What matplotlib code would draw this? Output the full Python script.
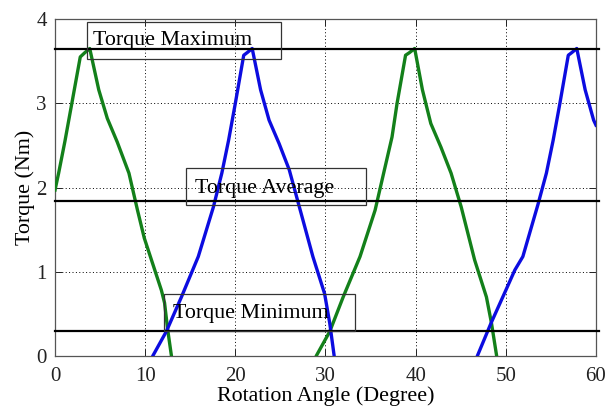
import numpy as np
import matplotlib
matplotlib.use('Agg')
import matplotlib.pyplot as plt
import matplotlib.patches as mpatches

plt.rcParams['font.family'] = ['Liberation Serif', 'DejaVu Serif']

# ── Data (degrees, Nm) ───────────────────────────────────────────────────────
green_x = [0.0, 0.4, 1.1, 1.9, 2.8, 3.3, 3.85, 4.85, 5.8, 6.9, 8.2, 9.15, 9.9,
           11.8, 12.15, 12.5, 12.9, 13.3,
           28.6, 28.97, 30.47, 31.96, 33.83, 35.5, 36.45, 37.38, 37.94, 38.88,
           39.3, 39.89, 40.75, 41.68, 42.8, 43.93, 45.05, 46.54, 47.85, 48.41,
           48.97, 49.3]
green_y = [1.97, 2.17, 2.55, 3.02, 3.55, 3.60, 3.65, 3.16, 2.82, 2.54, 2.17,
           1.73, 1.40, 0.78, 0.63, 0.31, 0.01, -0.3,
           -0.3, 0.0, 0.29, 0.70, 1.18, 1.73, 2.17, 2.60, 3.00, 3.57,
           3.60, 3.65, 3.16, 2.76, 2.48, 2.17, 1.77, 1.14, 0.70, 0.39,
           0.01, -0.3]

blue_x = [10.5, 10.84, 12.34, 14.02, 15.89, 17.57, 18.5, 19.25, 20.0, 20.93,
          21.3, 21.87, 22.8, 23.74, 24.86, 25.98, 27.1, 28.6, 29.9, 30.47,
          30.95, 31.3,
          46.5, 46.84, 48.36, 50.0, 51.0, 51.89, 53.57, 54.5, 55.25, 56.0,
          56.93, 57.3, 57.87, 58.8, 59.74, 60.0]
blue_y = [-0.3, 0.0, 0.29, 0.70, 1.18, 1.77, 2.17, 2.56, 3.00, 3.57,
          3.60, 3.65, 3.16, 2.80, 2.52, 2.21, 1.77, 1.18, 0.74, 0.39,
          0.01, -0.3,
          -0.3, 0.0, 0.39, 0.78, 1.02, 1.18, 1.80, 2.17, 2.56, 3.00,
          3.57, 3.60, 3.65, 3.16, 2.80, 2.74]

ref_names = ['Torque Maximum', 'Torque Average', 'Torque Minimum']
ref_vals = [3.64, 1.84, 0.30]
# text anchor (x, baseline y) and box (x0, x1, y0, y1) in data units
ref_text_pos = [(4.26, 3.69), (15.48, 1.94), (13.12, 0.45)]
ref_boxes = [(3.59, 25.01, 3.525, 3.964),
             (14.58, 34.54, 1.792, 2.231),
             (12.11, 33.31, 0.297, 0.736)]

x_ticks = [0, 10, 20, 30, 40, 50, 60]
y_ticks = [0, 1, 2, 3, 4]

# ── Figure ───────────────────────────────────────────────────────────────────
fig = plt.figure(figsize=(6.1, 4.09), dpi=100)
ax = fig.add_axes([0.0902, 0.1296, 0.8868, 0.8239])

ax.plot(green_x, green_y, color='#13801a', lw=2.4, solid_joinstyle='round',
        zorder=4)
ax.plot(blue_x, blue_y, color='#0c0ce0', lw=2.4, solid_joinstyle='round',
        zorder=4)

for val in ref_vals:
    ax.plot([0, 60.35], [val, val], color='black', lw=1.6, clip_on=False,
            zorder=5)

for name, (tx, ty), (x0, x1, y0, y1) in zip(ref_names, ref_text_pos, ref_boxes):
    ax.add_patch(mpatches.Rectangle((x0, y0), x1 - x0, y1 - y0, fill=False,
                                    ec='#333333', lw=0.9, clip_on=False,
                                    zorder=6))
    ax.text(tx, ty, name, fontsize=15.8, va='baseline', ha='left',
            color='black', zorder=6)

ax.set_xlim(0, 60)
ax.set_ylim(0, 4)
ax.set_xticks(x_ticks)
ax.set_yticks(y_ticks)
ax.tick_params(direction='in', length=5, width=0.7, top=True, right=True,
               labelsize=15, colors='#222222')
ax.tick_params(axis='x', pad=8)
ax.tick_params(axis='y', pad=6)
ax.grid(True, color='black', linestyle=(0, (1, 2.5)), lw=0.7)
for sp in ax.spines.values():
    sp.set_color('#555555')
    sp.set_linewidth(0.9)

ax.set_xlabel('Rotation Angle (Degree)', fontsize=15.8, labelpad=0)
ax.set_ylabel('Torque (Nm)', fontsize=15.8, labelpad=1)

fig.savefig('out.png', dpi=100)
